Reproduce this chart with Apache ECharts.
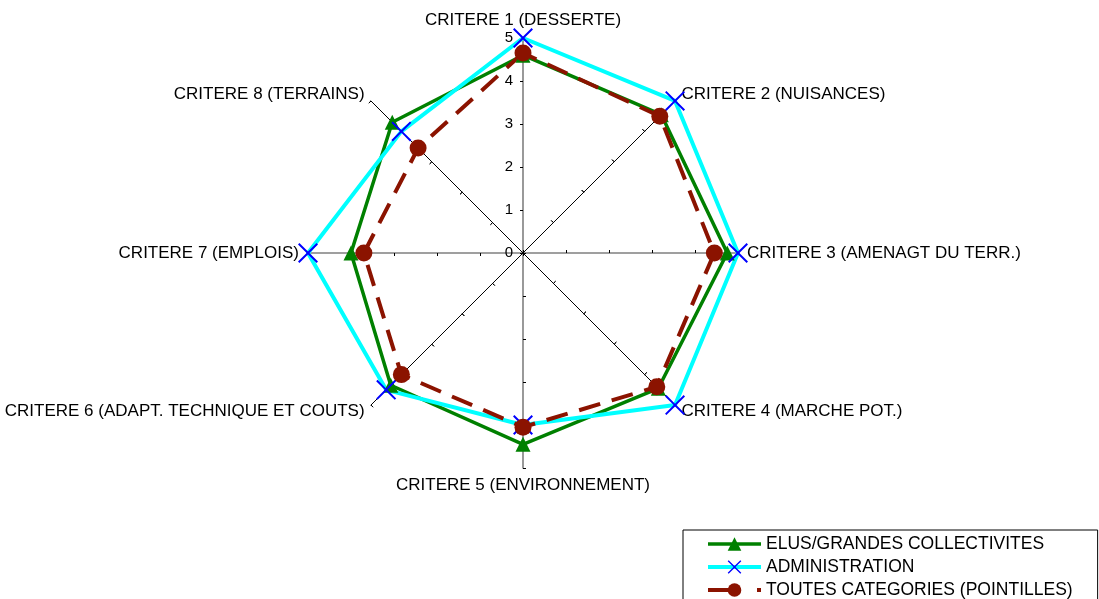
<!DOCTYPE html>
<html>
<head>
<meta charset="utf-8">
<script src="https://cdn.jsdelivr.net/npm/echarts@6/dist/echarts.min.js"></script>
<style>
html,body{margin:0;padding:0;background:#fff;}
#chart{width:1099px;height:599px;}
</style>
</head>
<body>
<div id="chart"></div>
<script>
// ---- data (criteria in clockwise order starting at top) ----
var criteria = [
  'CRITERE 1 (DESSERTE)',
  'CRITERE 2 (NUISANCES)',
  'CRITERE 3 (AMENAGT DU TERR.)',
  'CRITERE 4 (MARCHE POT.)',
  'CRITERE 5 (ENVIRONNEMENT)',
  'CRITERE 6 (ADAPT. TECHNIQUE ET COUTS)',
  'CRITERE 7 (EMPLOIS)',
  'CRITERE 8 (TERRAINS)'
];
var seriesNames = ['ELUS/GRANDES COLLECTIVITES', 'ADMINISTRATION', 'TOUTES CATEGORIES (POINTILLES)'];
var elus   = [4.6, 4.55, 4.75, 4.45, 4.45, 4.35, 4.0, 4.3];
var admin  = [5.0, 5.0, 5.0, 5.0, 4.0, 4.5, 5.0, 4.0];
var toutes = [4.65, 4.5, 4.45, 4.4, 4.05, 4.0, 3.7, 3.45];
var axisMin = 0, axisMax = 5, axisSplits = 5;

// ECharts radar runs counter-clockwise; reorder to get clockwise layout
var order = [0, 7, 6, 5, 4, 3, 2, 1];
function reorder(arr) { return order.map(function (i) { return arr[i]; }); }

var FONT = "'Liberation Sans', Arial, sans-serif";

var indicators1 = order.map(function (i) {
  var vertHor = (i % 2 === 0);
  var ind = { name: criteria[i], min: axisMin, max: axisMax };
  if (vertHor) {
    ind.axisLine = { lineStyle: { color: '#808080', width: 1.6 } };
  }
  if (i === 0) {
    ind.axisLabel = { show: true };
  }
  return ind;
});
var indicators2 = order.map(function (i) {
  return { name: criteria[i], min: axisMin, max: axisMax };
});

var xPath = 'path://M1.4,0 L10,8.6 L18.6,0 L20,1.4 L11.4,10 L20,18.6 L18.6,20 L10,11.4 L1.4,20 L0,18.6 L8.6,10 L0,1.4 Z';

var styles = [
  { symbol: 'triangle', symbolSize: 15, color: '#008000', lineColor: '#008000', width: 3.5, type: 'solid', legendType: 'solid' },
  { symbol: xPath, symbolSize: 20, color: '#0000ff', lineColor: '#00ffff', width: 4, type: 'solid', legendType: 'solid' },
  { symbol: 'circle', symbolSize: 17, color: '#8b1300', lineColor: '#8b1300', width: 4, type: [22, 12], legendType: [33, 16] }
];
var values = [elus, admin, toutes];

var chart = echarts.init(document.getElementById('chart'), null, { renderer: 'canvas' });
chart.setOption({
  backgroundColor: '#fff',
  animation: false,
  textStyle: { fontFamily: FONT },
  radar: [
    {
      center: [523, 253],
      radius: 215,
      startAngle: 90,
      splitNumber: axisSplits,
      shape: 'polygon',
      indicator: indicators1,
      nameGap: 9,
      axisName: { color: '#000', fontSize: 17, fontFamily: FONT },
      splitLine: { show: false },
      splitArea: { show: false },
      axisLine: { show: true, lineStyle: { color: '#000', width: 1 } },
      axisTick: { show: true, length: 3, lineStyle: { color: '#000', width: 1 } },
      axisLabel: { show: false, color: '#000', fontSize: 15, fontFamily: FONT, margin: 10, showMinLabel: true, showMaxLabel: true }
    },
    {
      center: [523, 253],
      radius: 215,
      startAngle: 90,
      splitNumber: axisSplits,
      shape: 'polygon',
      indicator: indicators2,
      axisName: { show: false },
      splitLine: { show: false },
      splitArea: { show: false },
      axisLine: { show: false },
      axisTick: { show: true, inside: true, length: 3, lineStyle: { color: '#000', width: 1 } },
      axisLabel: { show: false }
    }
  ],
  grid: { left: -200, top: -200, width: 10, height: 10, show: false },
  xAxis: { show: false, type: 'value' },
  yAxis: { show: false, type: 'value' },
  legend: {
    orient: 'vertical',
    left: 683,
    top: 530,
    height: 64,
    data: seriesNames.map(function (n, k) {
      return { name: n, lineStyle: { width: styles[k].width, type: styles[k].legendType } };
    }),
    selectedMode: false,
    itemWidth: 53,
    itemHeight: 17,
    itemGap: 5,
    padding: [5, 25, 5, 23],
    borderColor: '#000',
    borderWidth: 1,
    borderRadius: 0,
    textStyle: { color: '#000', fontSize: 17.5, fontFamily: FONT }
  },
  series: [
    {
      type: 'radar',
      radarIndex: 0,
      silent: true,
      data: values.map(function (v, k) {
        var s = styles[k];
        return {
          name: seriesNames[k] + ' ',
          value: reorder(v),
          symbol: s.symbol,
          symbolSize: s.symbolSize,
          itemStyle: { color: s.color, borderWidth: 0 },
          lineStyle: { color: s.lineColor, width: s.width, type: s.type }
        };
      })
    }
  ].concat(seriesNames.map(function (n, k) {
    var s = styles[k];
    return {
      type: 'line',
      name: n,
      data: [],
      symbol: s.symbol,
      symbolSize: s.symbolSize,
      itemStyle: { color: s.color },
      lineStyle: { color: s.lineColor, width: s.width, type: s.type }
    };
  }))
});
</script>
</body>
</html>
